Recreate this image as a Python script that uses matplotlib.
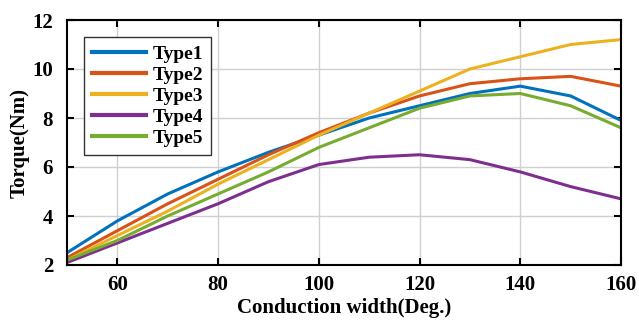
import matplotlib.pyplot as plt

# conduction width (deg) and torque (Nm) for each type
width = [50, 60, 70, 80, 90, 100, 110, 120, 130, 140, 150, 160]
type1 = [2.5, 3.8, 4.9, 5.8, 6.6, 7.3, 8.0, 8.5, 9.0, 9.3, 8.9, 7.9]
type2 = [2.3, 3.4, 4.5, 5.5, 6.5, 7.4, 8.2, 8.9, 9.4, 9.6, 9.7, 9.3]
type3 = [2.2, 3.2, 4.2, 5.3, 6.3, 7.3, 8.2, 9.1, 10.0, 10.5, 11.0, 11.2]
type4 = [2.1, 2.9, 3.7, 4.5, 5.4, 6.1, 6.4, 6.5, 6.3, 5.8, 5.2, 4.7]
type5 = [2.2, 3.0, 4.0, 4.9, 5.8, 6.8, 7.6, 8.4, 8.9, 9.0, 8.5, 7.6]
names = ["Type1", "Type2", "Type3", "Type4", "Type5"]
colors = ["#0072BD", "#D95319", "#EDB120", "#7E2F8E", "#77AC30"]

plt.rcParams['font.family'] = ['Liberation Serif', 'DejaVu Serif']
plt.rcParams['font.weight'] = 'bold'

fig = plt.figure(figsize=(6.39, 3.22), dpi=100)
ax = fig.add_axes([67 / 639, 1 - 265 / 322, (621 - 67) / 639, (265 - 20) / 322])

for ys, name, c in zip([type1, type2, type3, type4, type5], names, colors):
    ax.plot(width, ys, color=c, linewidth=2.2, label=name)

ax.set_xlim(50, 160)
ax.set_ylim(2, 12)
ax.set_xticks([60, 80, 100, 120, 140, 160])
ax.set_yticks([2, 4, 6, 8, 10, 12])
ax.grid(True, color='#d0d0d0', linewidth=1.0)
ax.tick_params(direction='in', top=True, right=True, length=5, width=1.5, labelsize=15)
ax.tick_params(axis='x', pad=7)
ax.tick_params(axis='y', pad=10)
for s in ax.spines.values():
    s.set_linewidth(1.5)

ax.set_xlabel("Conduction width(Deg.)", fontsize=15, fontweight='bold', labelpad=2)
ax.set_ylabel("Torque(Nm)", fontsize=15, fontweight='bold', labelpad=2)

leg = ax.legend(loc='upper left', bbox_to_anchor=(0.031, 0.93), fontsize=14,
                fancybox=False, edgecolor='#333333', framealpha=1,
                handlelength=2.8, handletextpad=0.3, labelspacing=0.18,
                borderpad=0.4, borderaxespad=0)
leg.get_frame().set_linewidth(1.0)
for line in leg.get_lines():
    line.set_linewidth(3.0)

fig.savefig("out.png", dpi=100)
